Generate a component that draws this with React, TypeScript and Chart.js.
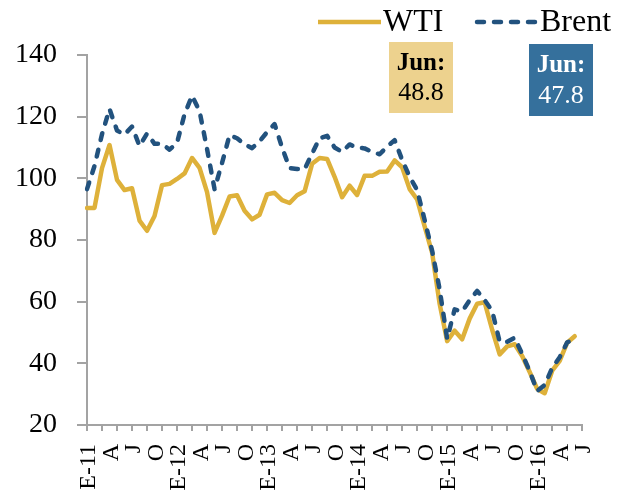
import React, { useEffect, useRef } from "react";
import { Chart, registerables } from "chart.js";

Chart.register(...registerables);

// ---- Data (monthly averages, US$/barrel), Jan 2011 – Jun 2016 ----
const seriesNames = ["WTI", "Brent"];

const monthInitials = ["E", "F", "M", "A", "M", "J", "J", "A", "S", "O", "N", "D"];
const years = ["11", "12", "13", "14", "15", "16"];
const axisMonths = 67; // axis runs Jan 2011 .. Jul 2016

const wti = [
  90.4, 90.4, 103.3, 110.8, 99.5, 96.2, 96.8, 86.3, 83.0, 87.8, 97.8, 98.2,
  99.8, 101.6, 106.6, 103.4, 95.5, 82.3, 87.9, 94.1, 94.5, 89.5, 86.7, 88.2,
  94.8, 95.3, 92.9, 92.0, 94.5, 95.8, 104.7, 106.6, 106.3, 100.5, 93.9, 97.6,
  94.6, 100.8, 100.8, 102.1, 102.2, 105.8, 103.6, 96.5, 93.2, 84.4, 75.8, 59.3,
  47.2, 50.6, 47.8, 54.5, 59.3, 59.8, 50.9, 42.9, 45.5, 46.2, 42.4, 37.2,
  31.7, 30.3, 37.6, 40.8, 46.7, 48.8,
];

const brent = [
  96.5, 104.0, 114.3, 122.5, 115.5, 114.2, 116.8, 110.5, 114.5, 111.2, 111.2, 109.3,
  111.5, 120.8, 126.8, 121.8, 109.5, 96.5, 105.0, 114.0, 113.0, 111.0, 109.8, 112.0,
  115.0, 117.6, 110.0, 103.3, 103.0, 103.0, 108.0, 113.0, 113.8, 110.0, 108.6, 111.0,
  110.0, 109.7, 108.6, 107.8, 110.3, 112.4, 106.0, 100.5, 96.2, 86.5, 76.5, 64.0,
  48.0, 57.5, 56.8, 60.5, 63.5, 60.5, 57.0, 47.0, 47.0, 48.3, 43.0, 37.5,
  31.0, 33.0, 38.5, 42.0, 46.8, 47.8,
];

const yMin = 20;
const yMax = 140;
const yStep = 20;

// ---- Styles ----
const FONT = "'Liberation Serif', 'Times New Roman', serif";
const WTI_COLOR = "#DEB13A";
const BRENT_COLOR = "#22527E";
const WTI_BOX = "#EDD28E";
const BRENT_BOX = "#35709C";
const AXIS = "#A3A3A3";
const BRENT_DASH = [7, 10];

const categories: string[] = [];
years.forEach((yy) => {
  monthInitials.forEach((m, i) => {
    categories.push(i === 0 ? `E-${yy}` : m);
  });
});
const axisLabels = categories.slice(0, axisMonths);

const lastWti = wti[wti.length - 1].toFixed(1);
const lastBrent = brent[brent.length - 1].toFixed(1);

const overlayPlugin = {
  id: "overlay",
  afterDraw(chart: any) {
    const c: CanvasRenderingContext2D = chart.ctx;
    c.save();
    // Legend
    const ly = 22;
    c.lineWidth = 4.5;
    c.lineCap = "butt";
    c.strokeStyle = WTI_COLOR;
    c.beginPath();
    c.moveTo(318, ly);
    c.lineTo(381, ly);
    c.stroke();
    c.font = `32px ${FONT}`;
    c.fillStyle = "#000";
    c.textBaseline = "middle";
    c.textAlign = "left";
    c.fillText(seriesNames[0], 383, ly + 1);

    c.strokeStyle = BRENT_COLOR;
    c.lineCap = "round";
    c.setLineDash(BRENT_DASH);
    c.beginPath();
    c.moveTo(477, ly);
    c.lineTo(537, ly);
    c.stroke();
    c.setLineDash([]);
    c.fillText(seriesNames[1], 540, ly + 1);

    // Value boxes
    const drawBox = (x: number, y: number, w: number, h: number, bg: string, fg: string, val: string) => {
      c.fillStyle = bg;
      c.fillRect(x, y, w, h);
      c.fillStyle = fg;
      c.textAlign = "center";
      c.textBaseline = "middle";
      c.font = `bold 25px ${FONT}`;
      c.fillText("Jun:", x + w / 2, y + h * 0.3);
      c.font = `26px ${FONT}`;
      c.fillText(val, x + w / 2, y + h * 0.72);
    };
    drawBox(389, 42, 64, 71, WTI_BOX, "#000", lastWti);
    drawBox(529, 44, 64, 72, BRENT_BOX, "#fff", lastBrent);
    c.restore();
  },
};

export default function App() {
  const ref = useRef<HTMLCanvasElement>(null);
  useEffect(() => {
    document.body.style.margin = "0";
    const canvas = ref.current;
    if (!canvas) return;
    const chart = new Chart(canvas, {
      type: "line",
      data: {
        labels: axisLabels,
        datasets: [
          {
            label: seriesNames[0],
            data: wti,
            borderColor: WTI_COLOR,
            backgroundColor: WTI_COLOR,
            borderWidth: 4.5,
            pointRadius: 0,
            tension: 0,
            borderJoinStyle: "round",
            borderCapStyle: "round",
            order: 1,
          },
          {
            label: seriesNames[1],
            data: brent,
            borderColor: BRENT_COLOR,
            backgroundColor: BRENT_COLOR,
            borderWidth: 4.5,
            borderDash: BRENT_DASH,
            borderCapStyle: "round",
            borderJoinStyle: "round",
            pointRadius: 0,
            tension: 0,
            order: 0,
          },
        ],
      },
      options: {
        animation: false,
        responsive: false,
        maintainAspectRatio: false,
        layout: { padding: { top: 55, right: 17, left: 0, bottom: 0 } },
        plugins: { legend: { display: false }, tooltip: { enabled: false } },
        scales: {
          x: {
            type: "category",
            offset: false,
            grid: {
              display: true,
              drawOnChartArea: false,
              drawTicks: true,
              tickLength: 6,
              lineWidth: 2,
              color: (ctx: any) => (ctx.index % 2 === 0 ? AXIS : "rgba(0,0,0,0)"),
            },
            border: { display: true, color: AXIS, width: 2 },
            ticks: {
              autoSkip: false,
              maxRotation: 90,
              minRotation: 90,
              padding: 13,
              labelOffset: 2,
              color: "#000",
              font: { family: FONT, size: 24 },
              callback: (_v: any, i: number) => (i % 3 === 0 ? axisLabels[i] : ""),
            },
            afterFit: (s: any) => {
              s.height = 66;
            },
          },
          y: {
            min: yMin,
            max: yMax,
            ticks: {
              stepSize: yStep,
              padding: 20,
              color: "#000",
              font: { family: FONT, size: 28 },
            },
            grid: {
              drawOnChartArea: false,
              drawTicks: true,
              tickLength: 10,
              lineWidth: 2,
              color: AXIS,
            },
            border: { display: true, color: AXIS, width: 2 },
            afterFit: (s: any) => {
              s.width = 87;
            },
          },
        },
      },
      plugins: [overlayPlugin],
    });
    return () => chart.destroy();
  }, []);
  return (
    <div style={{ width: 624, height: 491 }}>
      <canvas ref={ref} width={624} height={491} style={{ display: "block", width: 624, height: 491 }} />
    </div>
  );
}
